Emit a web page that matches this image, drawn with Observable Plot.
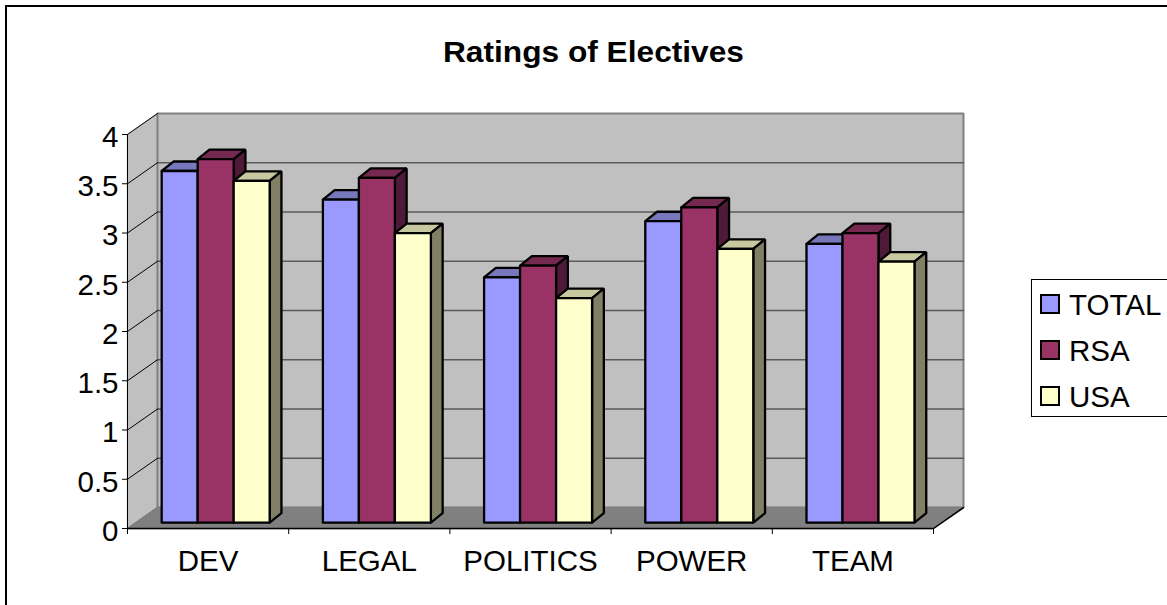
<!DOCTYPE html>
<html>
<head>
<meta charset="utf-8">
<script src="https://cdn.jsdelivr.net/npm/d3@7"></script>
<script src="https://cdn.jsdelivr.net/npm/@observablehq/plot@0.6"></script>
<style>
  html, body { margin: 0; padding: 0; background: #fff; overflow: hidden; }
  #page { position: relative; width: 1167px; height: 605px; font-family: "Liberation Sans", Arial, sans-serif; color: #000; overflow: hidden; }
  #frame { position: absolute; left: 5px; top: 5px; width: 1180px; height: 620px; border: 2px solid #000; box-sizing: border-box; }
  #title { position: absolute; left: 443px; top: 36px; font-size: 29px; font-weight: bold; white-space: nowrap; transform: scaleX(1.092); transform-origin: left center; }
  #legend { position: absolute; left: 1031px; top: 279px; width: 150px; height: 138px; border: 1px solid #000; box-sizing: border-box; background: #fff; }
  .entry { position: absolute; left: 8px; font-size: 29.5px; line-height: 28px; white-space: nowrap; }
  .entry i { position: absolute; left: 0; top: 3px; width: 16px; height: 16px; border: 2px solid #000; box-sizing: content-box; }
  .entry span { position: absolute; left: 29px; top: 0; }
</style>
</head>
<body>
<div id="page">
  <div id="frame"></div>
  <div id="chart"></div>
  <div id="title">Ratings of Electives</div>
  <div id="legend"></div>
</div>
<script>
const categories = ["DEV", "LEGAL", "POLITICS", "POWER", "TEAM"];
const seriesNames = ["TOTAL", "RSA", "USA"];
const total = [3.57, 3.28, 2.49, 3.06, 2.83];
const rsa = [3.69, 3.5, 2.61, 3.2, 2.94];
const usa = [3.47, 2.94, 2.28, 2.78, 2.65];
const yTicks = [0, 0.5, 1, 1.5, 2, 2.5, 3, 3.5, 4];

// face, top and side shades for each series
const faceColors = ["#9999ff", "#993366", "#ffffcc"];
const topColors = ["#7777bb", "#752850", "#c8c8a0"];
const sideColors = ["#4f1a3a", "#4f1a3a", "#808066"];

// Oblique projection: depth 0 is the front plane, depth 1 is the back wall.
const depthX = 0.186;
const depthY = 0.213;
const project = (x, y, depth) => ({ x: x + depth * depthX, y: y + depth * depthY });

// Bars stand a little behind the front plane and have their own shallower depth.
const barOffset = 0.28;
const barDepthX = 0.073;
const barDepthY = 0.096;
const barStart = 0.16;
const barWidth = 0.2233;
const barFront = (x, y) => project(x, y, barOffset);
const barBack = (x, y) => {
  const p = barFront(x, y);
  return { x: p.x + barDepthX, y: p.y + barDepthY };
};

// Each bar becomes three closed polygons, listed in painting order.
const polygons = [];
let nextId = 0;
function addPolygon(corners, fill) {
  const id = nextId++;
  for (const c of [...corners, corners[0]]) polygons.push({ ...c, id, fill });
}
categories.forEach((_, i) => {
  [total, rsa, usa].forEach((values, s) => {
    const x0 = i + barStart + s * barWidth;
    const x1 = x0 + barWidth;
    const v = values[i];
    addPolygon([barFront(x0, v), barFront(x1, v), barBack(x1, v), barBack(x0, v)], topColors[s]);
    addPolygon([barFront(x1, 0), barFront(x1, v), barBack(x1, v), barBack(x1, 0)], sideColors[s]);
    addPolygon([barFront(x0, 0), barFront(x1, 0), barFront(x1, v), barFront(x0, v)], faceColors[s]);
  });
});

const closed = (pts) => [...pts, pts[0]];
const backWall = closed([project(0, 0, 1), project(5, 0, 1), project(5, 4, 1), project(0, 4, 1)]);
const sideWall = closed([project(0, 0, 0), project(0, 0, 1), project(0, 4, 1), project(0, 4, 0)]);
const floor = closed([project(0, 0, 0), project(5, 0, 0), project(5, 0, 1), project(0, 0, 1)]);
const sideGrid = yTicks.flatMap((v) => [project(0, v, 0), project(0, v, 1)].map((p) => ({ ...p, v })));
const backGrid = yTicks.slice(1, -1).flatMap((v) => [project(0, v, 1), project(5, v, 1)].map((p) => ({ ...p, v })));
const floorEdge = [project(0, 0, 0), project(5, 0, 0), project(5, 0, 1)];

const chart = Plot.plot({
  width: 1167,
  height: 605,
  marginLeft: 127,
  marginRight: 234,
  marginTop: 134,
  marginBottom: 77,
  style: { fontFamily: "Liberation Sans, Arial, sans-serif", color: "#000", background: "transparent", overflow: "visible" },
  x: { domain: [0, 5], axis: null },
  y: { domain: [0, 4], axis: null },
  color: { type: "identity" },
  marks: [
    Plot.line(sideWall, { x: "x", y: "y", fill: "#c0c0c0", stroke: "#c0c0c0" }),
    Plot.line(backWall, { x: "x", y: "y", fill: "#c0c0c0", stroke: "#808080", strokeWidth: 2, strokeLinejoin: "miter" }),
    Plot.line(backGrid, { x: "x", y: "y", z: "v", stroke: "#5a5a5a", strokeWidth: 1.5 }),
    Plot.line(sideGrid, { x: "x", y: "y", z: "v", stroke: "#000", strokeWidth: 1 }),
    Plot.line(floor, { x: "x", y: "y", fill: "#808080", stroke: "#808080" }),
    Plot.line(polygons, { x: "x", y: "y", z: "id", fill: "fill", stroke: "#000", strokeWidth: 2.3, strokeLinejoin: "miter" }),
    Plot.line(floorEdge, { x: "x", y: "y", stroke: "#000", strokeWidth: 1.5 }),
    Plot.ruleX([0], { y1: 0, y2: 4, stroke: "#000", strokeWidth: 1 }),
    Plot.axisY({ ticks: yTicks, anchor: "left", label: null, tickSize: 5, tickFormat: () => "", stroke: "#000", strokeWidth: 1 }),
    Plot.text(yTicks, { x: 0, y: (d) => d, text: (d) => String(d), textAnchor: "end", dx: -9, dy: 3, fontSize: 29.5, fill: "#000" }),
    Plot.axisX({ ticks: d3.range(categories.length + 1), anchor: "bottom", label: null, tickSize: 6, tickFormat: () => "", stroke: "#000", strokeWidth: 1 }),
    Plot.text(categories, { x: (_, i) => i + 0.5, y: 0, text: (d) => d, fontSize: 29.5, dy: 33, textAnchor: "middle", fill: "#000" })
  ]
});
document.getElementById("chart").appendChild(chart);

// Legend entries sit in a bordered box at the right of the plot.
const legend = document.getElementById("legend");
seriesNames.forEach((name, i) => {
  const row = document.createElement("div");
  row.className = "entry";
  row.style.top = `${11 + i * 46}px`;
  const swatch = document.createElement("i");
  swatch.style.background = faceColors[i];
  const label = document.createElement("span");
  label.textContent = name;
  row.append(swatch, label);
  legend.appendChild(row);
});
</script>
</body>
</html>
